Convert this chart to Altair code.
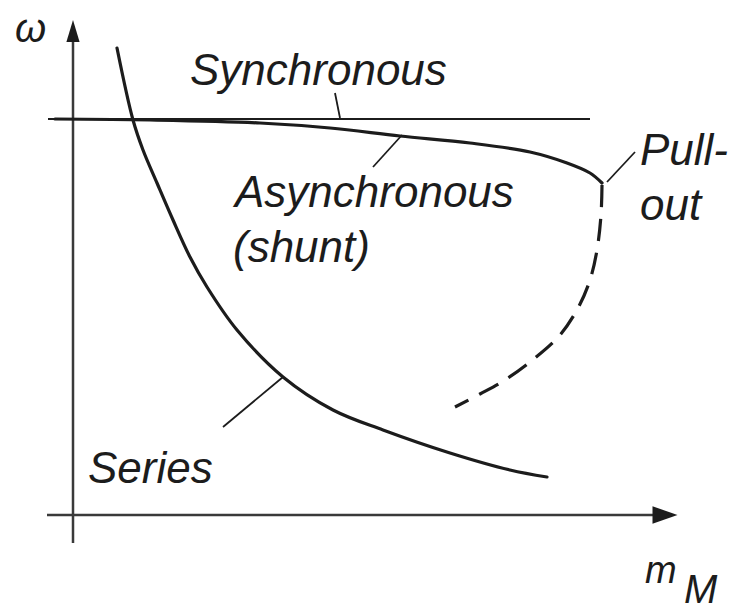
import altair as alt
import pandas as pd

# Torque (u) / speed (v) sketch coordinates, origin at the axes' crossing
series_u = [44, 60, 70, 84, 100, 117, 134, 164, 210, 260, 310, 377, 437, 474]
series_v = [467, 395, 365, 332, 295, 258, 228, 185, 138, 105, 85, 62, 45, 38]

shunt_u = [-18, 77, 187, 257, 327, 397, 457, 494, 517, 529]
shunt_v = [396, 395, 392, 387, 379, 372, 363, 352, 342, 332]

unstable_u = [529, 528, 524, 517, 505, 487, 462, 432, 407, 382]
unstable_v = [330, 300, 265, 235, 207, 180, 157, 135, 121, 108]

sync_u = [-25, 517]
sync_v = 396

# Leader lines from labels to curves: (u, v, u2, v2)
leaders = [
    (262, 422, 267, 397),   # Synchronous
    (300, 348, 329, 380),   # Asynchronous
    (534, 333, 562, 363),   # Pull-out
    (150, 88, 210, 138),    # Series
]

label_text = ["Synchronous", "Asynchronous", "(shunt)", "Pull-", "out", "Series"]
label_u = [117, 162, 160, 567, 567, 15]
label_v = [430, 308, 253, 350, 295, 32]

FONT = "Liberation Sans"
INK = "#1c1c1c"

xs = alt.Scale(domain=[-73, 660], nice=False, zero=False)
ys = alt.Scale(domain=[-95, 515], nice=False, zero=False)


def X(f="u"):
    return alt.X(f"{f}:Q", scale=xs, axis=None)


def Y(f="v"):
    return alt.Y(f"{f}:Q", scale=ys, axis=None)


def curve_df(name, us, vs):
    return pd.DataFrame({"u": us, "v": vs, "curve": name, "i": range(len(us))})


solid = pd.concat([curve_df("series", series_u, series_v),
                   curve_df("shunt", shunt_u, shunt_v)])
dashed = curve_df("unstable", unstable_u, unstable_v)

solid_layer = alt.Chart(solid).mark_line(
    color=INK, strokeWidth=3.2, interpolate="catmull-rom", strokeCap="round"
).encode(x=X(), y=Y(), detail="curve:N", order="i:Q")

dashed_layer = alt.Chart(dashed).mark_line(
    color=INK, strokeWidth=3.2, interpolate="catmull-rom", strokeDash=[22, 12]
).encode(x=X(), y=Y(), order="i:Q")

sync_layer = alt.Chart(pd.DataFrame({"u": [sync_u[0]], "u2": [sync_u[1]], "v": [sync_v]})).mark_rule(
    color=INK, strokeWidth=2
).encode(x=X(), x2="u2:Q", y=Y())

axes = pd.DataFrame({
    "u": [0, -26], "v": [-28, 0], "u2": [0, 590], "v2": [485, 0],
})
axes_layer = alt.Chart(axes).mark_rule(color="#3a3a3a", strokeWidth=2.5).encode(
    x=X(), y=Y(), x2="u2:Q", y2="v2:Q")

lead_df = pd.DataFrame(leaders, columns=["u", "v", "u2", "v2"])
lead_layer = alt.Chart(lead_df).mark_rule(color=INK, strokeWidth=1.8).encode(
    x=X(), y=Y(), x2="u2:Q", y2="v2:Q")

up_arrow = alt.Chart(pd.DataFrame({"u": [0], "v": [484]})).mark_point(
    shape="M0,-1L0.6,1L-0.6,1Z", size=484, filled=True, opacity=1, color=INK
).encode(x=X(), y=Y())

right_arrow = alt.Chart(pd.DataFrame({"u": [592], "v": [0]})).mark_point(
    shape="M1,0L-1,-0.7L-1,0.7Z", size=625, filled=True, opacity=1, color=INK
).encode(x=X(), y=Y())

labels = pd.DataFrame({"u": label_u, "v": label_v, "t": label_text})
label_layer = alt.Chart(labels).mark_text(
    font=FONT, fontStyle="italic", fontSize=44, align="left", baseline="alphabetic", color=INK
).encode(x=X(), y=Y(), text="t:N")

omega = alt.Chart(pd.DataFrame({"u": [-58], "v": [473], "t": ["ω"]})).mark_text(
    font=FONT, fontStyle="italic", fontSize=40, align="left", baseline="alphabetic", color=INK
).encode(x=X(), y=Y(), text="t:N")

m_lbl = alt.Chart(pd.DataFrame({"u": [572], "v": [-68], "t": ["m"]})).mark_text(
    font=FONT, fontStyle="italic", fontSize=38, align="left", baseline="alphabetic", color=INK
).encode(x=X(), y=Y(), text="t:N")

M_lbl = alt.Chart(pd.DataFrame({"u": [611], "v": [-88], "t": ["M"]})).mark_text(
    font=FONT, fontStyle="italic", fontSize=40, align="left", baseline="alphabetic", color=INK
).encode(x=X(), y=Y(), text="t:N")

chart = alt.layer(
    axes_layer, sync_layer, solid_layer, dashed_layer, lead_layer,
    up_arrow, right_arrow, label_layer, omega, m_lbl, M_lbl
).properties(
    width=733, height=610, padding=0, autosize=alt.AutoSizeParams(type="none"),
    background="white"
).configure_view(stroke=None)

chart.save("out.html", embed_options={"renderer": "svg", "actions": False})
